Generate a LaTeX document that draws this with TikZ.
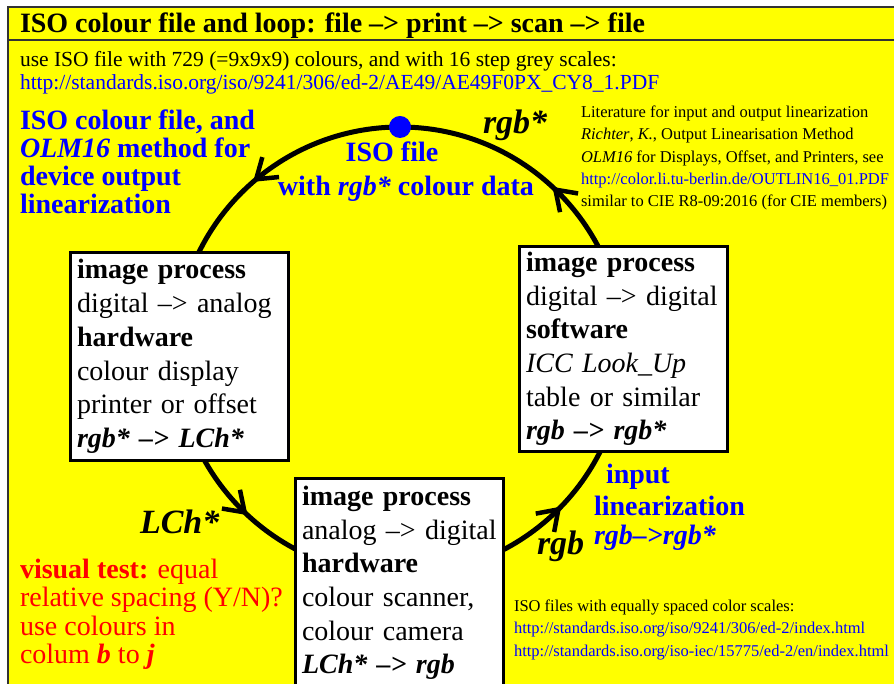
\documentclass[tikz,border=0pt]{standalone}
\usepackage{fontspec}
\setmainfont{Liberation Serif}
\usetikzlibrary{decorations.markings}
\definecolor{pageyellow}{rgb}{1,1,0}
\definecolor{isoblue}{rgb}{0,0,1}
\definecolor{testred}{rgb}{1,0,0}
\newcommand{\fsz}[2]{\fontsize{#1}{#2}\selectfont}
\newcommand{\arr}{\textendash>}
% open chevron pointing along the loop direction
\newcommand{\looptip}{\draw[line width=4.5pt, line join=miter] (-19pt,13pt) -- (0pt,0pt) -- (-19pt,-13pt);}

\begin{document}
\begin{tikzpicture}[x=1pt,y=1pt,
  every node/.style={inner sep=0pt, outer sep=0pt},
  framel/.style={line width=1.6pt, draw=black!80},
  loopline/.style={line width=5pt},
  procbox/.style={draw, line width=3pt, fill=white, align=left,
    inner xsep=6.5pt, text width=195pt, font=\fsz{28}{33.7}},
  bigtxt/.style={font=\fsz{28}{28}\bfseries},
  smalltxt/.style={font=\fsz{16.5}{22.3}, align=left},
  flowlabel/.style={font=\fsz{34}{34}\bfseries\itshape, anchor=base west}]

\useasboundingbox (0,0) rectangle (894,684);
\fill[white] (0,0) rectangle (894,684);
\fill[pageyellow] (8,0) rectangle (900,677);
\draw[framel] (8,-2) -- (8,677) -- (900,677);
\draw[framel] (8,644) -- (900,644);

% header
\node[anchor=base west, font=\fsz{28}{28}\bfseries] (title) at (20,651)
  {ISO colour file and loop: file \arr{} print \arr{} scan \arr{} file};
\node[anchor=base west, font=\fsz{21.5}{23}] (usage) at (20,617)
  {use ISO file with 729 (=9x9x9) colours, and with 16 step grey scales:};
\node[anchor=base west, font=\fsz{21.5}{23}, text=isoblue] (isourl) at (20,594)
  {http://standards.iso.org/iso/9241/306/ed-2/AE49/AE49F0PX\_CY8\_1.PDF};

% the loop: file -> print -> scan -> file
\coordinate (loopc) at (400,333);
\draw[loopline, postaction={decorate}, decoration={markings,
    mark=at position 0.128 with {\looptip},
    mark=at position 0.361 with {\looptip},
    mark=at position 0.628 with {\looptip},
    mark=at position 0.875 with {\looptip}}]
  (loopc) circle[radius=224];
\node[circle, fill=isoblue, minimum size=22pt] (isodot) at (400,557) {};

% process boxes
\node[procbox, text width=205pt, minimum height=208pt] (outbox) at (179.5,327.5)
  {\textbf{image process}\\ digital \arr{} analog\\ \textbf{hardware}\\
   colour display\\ printer or offset\\ \textbf{\textit{rgb* \arr{} LCh*}}};
\node[procbox, minimum height=205pt] (swbox) at (623.5,335)
  {\textbf{image process}\\ digital \arr{} digital\\ \textbf{software}\\
   \textit{ICC Look\_Up}\\ table or similar\\ \textbf{\textit{rgb \arr{} rgb*}}};
\node[procbox, anchor=north, inner ysep=7.5pt] (inbox) at (399.5,205.5)
  {\textbf{image process}\\ analog \arr{} digital\\ \textbf{hardware}\\
   colour scanner,\\ colour camera\\ \textbf{\textit{LCh* \arr{} rgb}}};

% labels around the loop
\node[bigtxt, text=isoblue, anchor=base] (filelbl) at (392,522) {ISO file};
\node[bigtxt, text=isoblue, anchor=base] (datalbl) at (406,488)
  {with \textit{rgb*} colour data};
\node[flowlabel] (rgbstar) at (483,550) {rgb*};
\node[flowlabel] (lchstar) at (140,150) {LCh*};
\node[flowlabel] (rgbplain) at (537,129) {rgb};

\node[bigtxt, text=isoblue, anchor=base west] (inlin1) at (606,200) {input};
\node[bigtxt, text=isoblue, anchor=base west] (inlin2) at (594,168) {linearization};
\node[bigtxt, text=isoblue, anchor=base west] (inlin3) at (594,139) {\textit{rgb\arr{}rgb*}};

% left column
\node[bigtxt, text=isoblue, align=left, anchor=north west] (olmhead) at (20,574)
  {ISO colour file, and\\ \textit{OLM16} method for\\ device output\\ linearization};
\node[font=\fsz{28}{28.3}, text=testred, align=left, anchor=north west] (vistest) at (20,125)
  {\textbf{visual test:} equal\\ relative spacing (Y/N)?\\ use colours in\\
   colum \textbf{\textit{b}} to \textbf{\textit{j}}};

% references
\node[smalltxt, anchor=north west] (litref) at (581,578)
  {Literature for input and output linearization\\
   \textit{Richter}, \textit{K.}, Output Linearisation Method\\
   \textit{OLM16} for Displays, Offset, and Printers, see\\
   \textcolor{isoblue}{http://color.li.tu-berlin.de/OUTLIN16\_01.PDF}\\
   similar to CIE R8-09:2016 (for CIE members)};
\node[smalltxt, anchor=north west] (isoref) at (514,84)
  {ISO files with equally spaced color scales:\\
   \textcolor{isoblue}{http://standards.iso.org/iso/9241/306/ed-2/index.html}\\
   \textcolor{isoblue}{http://standards.iso.org/iso-iec/15775/ed-2/en/index.html}};
\end{tikzpicture}
\end{document}
